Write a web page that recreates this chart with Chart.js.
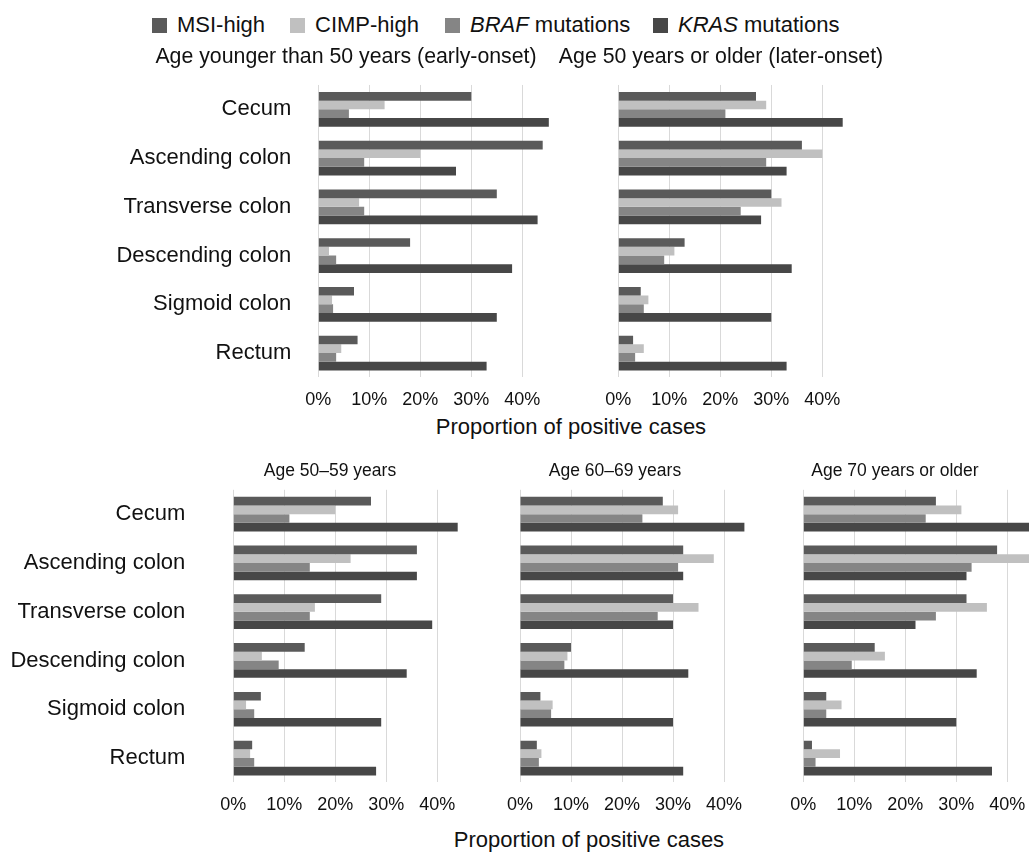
<!DOCTYPE html>
<html>
<head>
<meta charset="utf-8">
<script src="https://cdn.jsdelivr.net/npm/chart.js@4.4.1/dist/chart.umd.min.js"></script>
<style>
html,body{margin:0;padding:0;background:#fff;overflow:hidden;width:1029px;height:853px;}
body{position:relative;font-family:"Liberation Sans",Arial,sans-serif;color:#111;}
canvas{position:absolute;}
.leg{position:absolute;top:12px;height:26px;line-height:26px;font-size:22px;white-space:nowrap;}
.sw{position:absolute;top:18px;width:15px;height:15px;}
.axt{position:absolute;width:400px;text-align:center;font-size:22px;line-height:26px;white-space:nowrap;}
</style>
</head>
<body>
<div class="sw" style="left:152px;background:#5a5a5a"></div><div class="leg" style="left:177px">MSI-high</div>
<div class="sw" style="left:290px;background:#c0c0c0"></div><div class="leg" style="left:315px">CIMP-high</div>
<div class="sw" style="left:445px;background:#858585"></div><div class="leg" style="left:470px"><i>BRAF</i> mutations</div>
<div class="sw" style="left:653px;background:#474747"></div><div class="leg" style="left:678px"><i>KRAS</i> mutations</div>
<div class="axt" style="left:371px;top:414px">Proportion of positive cases</div>
<div class="axt" style="left:389px;top:827px">Proportion of positive cases</div>
<script>
const categories = ["Cecum", "Ascending colon", "Transverse colon", "Descending colon", "Sigmoid colon", "Rectum"];
const seriesNames = ["MSI-high", "CIMP-high", "BRAF mutations", "KRAS mutations"];
const seriesColors = ["#5a5a5a", "#c0c0c0", "#858585", "#474747"];
const xTickValues = [0, 10, 20, 30, 40];
const panelTitles = ["Age younger than 50 years (early-onset)", "Age 50 years or older (later-onset)", "Age 50\u201359 years", "Age 60\u201369 years", "Age 70 years or older"];

// Early-onset (< 50 years)
const msiEarly  = [30, 44, 35, 18, 7, 7.7];
const cimpEarly = [13, 20, 8, 2.1, 2.7, 4.5];
const brafEarly = [6, 9, 9, 3.5, 2.9, 3.5];
const krasEarly = [45.2, 27, 43, 38, 35, 33];

// Later-onset (>= 50 years)
const msiLater  = [27, 36, 30, 13, 4.4, 2.9];
const cimpLater = [29, 40, 32, 11, 5.9, 5];
const brafLater = [21, 29, 24, 9, 5, 3.3];
const krasLater = [44, 33, 28, 34, 30, 33];

// 50-59 years
const msi5059  = [27, 36, 29, 14, 5.4, 3.7];
const cimp5059 = [20, 23, 16, 5.6, 2.5, 3.3];
const braf5059 = [11, 15, 15, 8.9, 4.1, 4.1];
const kras5059 = [44, 36, 39, 34, 29, 28];

// 60-69 years
const msi6069  = [28, 32, 30, 10, 4, 3.3];
const cimp6069 = [31, 38, 35, 9.3, 6.4, 4.2];
const braf6069 = [24, 31, 27, 8.7, 6.1, 3.7];
const kras6069 = [44, 32, 30, 33, 30, 32];

// 70 years or older
const msi70  = [26, 38, 32, 14, 4.5, 1.7];
const cimp70 = [31, 45, 36, 16, 7.5, 7.2];
const braf70 = [24, 33, 26, 9.5, 4.5, 2.4];
const kras70 = [46, 32, 22, 34, 30, 37];

Chart.defaults.font.family = "'Liberation Sans', Arial, sans-serif";
Chart.defaults.color = "#111";

const PX_PER_PCT = 5.1;

function panel(cfg) {
  const c = document.createElement('canvas');
  c.width = cfg.w; c.height = cfg.h;
  c.style.left = cfg.x + 'px'; c.style.top = cfg.y + 'px';
  c.style.width = cfg.w + 'px'; c.style.height = cfg.h + 'px';
  document.body.appendChild(c);
  const xMax = (cfg.w - cfg.yw) / PX_PER_PCT;
  new Chart(c, {
    type: 'bar',
    data: {
      labels: categories,
      datasets: seriesNames.map((n, i) => ({
        label: n, data: cfg.values[i], backgroundColor: seriesColors[i],
        borderWidth: 0, categoryPercentage: 0.712, barPercentage: 1
      }))
    },
    options: {
      indexAxis: 'y', responsive: false, animation: false,
      layout: { padding: 0 },
      plugins: {
        legend: { display: false }, tooltip: { enabled: false },
        title: { display: true, text: cfg.title, color: '#111',
          font: { size: cfg.titleSize, weight: 'normal' },
          padding: { top: cfg.tpt, bottom: cfg.tpb } }
      },
      scales: {
        x: {
          min: 0, max: xMax,
          afterBuildTicks: s => { s.ticks = xTickValues.map(v => ({ value: v })); },
          afterFit: s => { s.paddingLeft = 0; s.paddingRight = 0; },
          ticks: { callback: v => v + '%', font: { size: 18 }, color: '#111', padding: 12 },
          grid: { color: '#d9d9d9', drawTicks: false, lineWidth: 1 },
          border: { display: false }
        },
        y: {
          afterFit: s => { s.width = cfg.yw; s.paddingTop = 0; s.paddingBottom = 0; },
          ticks: { display: cfg.showLabels, font: { size: 22 }, color: '#111', padding: cfg.labelPad },
          grid: { display: false, drawTicks: false },
          border: { display: false }
        }
      }
    }
  });
}

// top row
panel({ x: 110, y: 30, w: 472, h: 393, yw: 208.3, title: panelTitles[0], titleSize: 21.3, tpt: 14, tpb: 15.4,
  showLabels: true, labelPad: 27, values: [msiEarly, cimpEarly, brafEarly, krasEarly] });
panel({ x: 550, y: 30, w: 342, h: 393, yw: 68.3, title: panelTitles[1], titleSize: 21.3, tpt: 14, tpb: 15.4,
  showLabels: false, labelPad: 0, values: [msiLater, cimpLater, brafLater, krasLater] });
// bottom row
panel({ x: 10, y: 440, w: 640, h: 388, yw: 223.3, title: panelTitles[2], titleSize: 17.5, tpt: 20.5, tpb: 8.3,
  showLabels: true, labelPad: 48, values: [msi5059, cimp5059, braf5059, kras5059] });
panel({ x: 460, y: 440, w: 310, h: 388, yw: 60, title: panelTitles[3], titleSize: 17.5, tpt: 20.5, tpb: 8.3,
  showLabels: false, labelPad: 0, values: [msi6069, cimp6069, braf6069, kras6069] });
panel({ x: 750, y: 440, w: 290, h: 388, yw: 53.3, title: panelTitles[4], titleSize: 17.5, tpt: 20.5, tpb: 8.3,
  showLabels: false, labelPad: 0, values: [msi70, cimp70, braf70, kras70] });
</script>
</body>
</html>
